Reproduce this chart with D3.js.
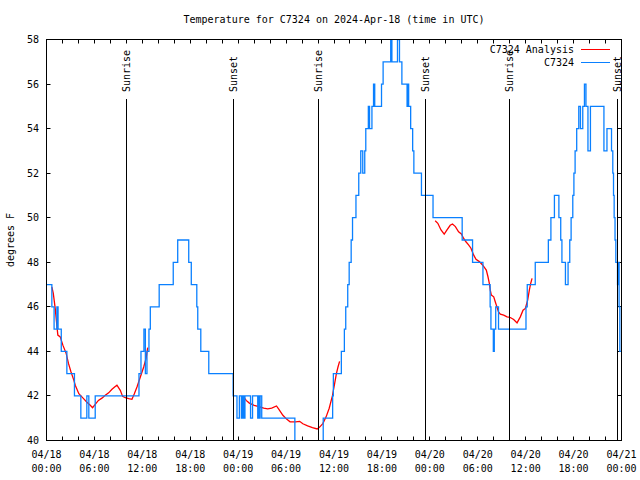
<!DOCTYPE html>
<html>
<head>
<meta charset="utf-8">
<script src="https://cdn.jsdelivr.net/npm/d3@7"></script>
<style>
  html, body { margin: 0; padding: 0; background: #ffffff; }
  svg { display: block; }
  text { font-family: "DejaVu Sans Mono", "Liberation Mono", monospace; font-size: 10px; fill: #000; }
</style>
</head>
<body>
<svg id="chart" width="640" height="480"></svg>
<script>
// ---- data (hours since 2024-04-18 00:00 UTC) ----
const titleText = "Temperature for C7324 on 2024-Apr-18 (time in UTC)";
const yLabelText = "degrees F";
const seriesNames = ["C7324 Analysis", "C7324"];

const blueHours = [0,0.67,0.95,1.3,1.45,1.85,2.55,3.5,4.3,5.05,5.3,6.1,11.58,11.83,12.2,12.38,12.58,12.83,13.0,14.11,15.87,16.43,17.81,18.13,18.82,18.94,19.32,20.32,
  23.37,23.85,24.15,24.4,24.55,24.7,24.85,25.55,25.8,26.45,26.55,26.65,26.75,26.95,31.1,34.65,
  35.83,35.92,36.92,37.3,37.47,37.72,37.9,38.15,38.32,38.75,39.1,39.35,39.6,39.85,39.98,40.3,40.45,40.75,40.95,41.1,41.95,42.15,43.1,43.25,43.95,44.2,44.5,45.15,45.25,45.35,45.6,45.85,46.0,46.95,48.4,52.05,53.35,54.65,55.55,55.65,55.95,56.07,56.25,56.6,
  60.04,60.2,61.2,62.84,63.16,63.6,64.16,64.39,64.54,64.98,65.31,65.52,65.69,65.9,66.04,66.19,66.39,66.65,66.86,67.15,67.36,67.55,67.8,68.11,69.8,70.18,70.75,70.91,71.0,71.08,71.19,71.29,71.5,71.6,71.7,71.79,72];
const blueTemps = [47,46,45,46,45,44,43,42,41,42,41,42,43,44,45,43,44,45,46,47,48,49,48,47,46,45,44,43,
  42,41,42,41,42,41,42,41,42,41,42,41,42,41,39,41,
  42,43,44,45,46,47,48,49,50,51,52,53,52,53,54,55,54,55,56,55,56,57,58,57,58,57,56,55,56,55,54,53,52,51,50,49,48,47,46,45,44,45,46,45,
  46,47,48,49,50,51,50,49,48,47,48,49,50,51,52,53,54,55,54,55,56,55,53,55,53,54,53,52,51,50,49,48,47,48,46,44,44];

// null entries separate the analysis segments
const redHours = [0.67,0.85,1.09,1.15,1.42,1.72,2.05,2.47,2.76,3.05,3.43,3.6,4.05,4.64,5.06,5.48,5.77,6.1,6.5,6.94,7.36,7.78,8.2,8.53,8.82,9.24,9.53,9.87,10.29,10.7,11.0,11.33,11.75,12.17,12.46,12.67,
  null,
  24.75,25.0,25.4,26.0,26.6,27.2,27.7,28.2,28.8,29.1,29.6,30.1,30.5,31.2,31.7,32.1,32.7,33.3,33.9,34.2,34.6,35.0,35.4,35.8,36.1,36.3,36.5,36.7,
  null,
  48.67,49.0,49.4,49.8,50.15,50.55,50.84,51.2,51.6,51.95,52.22,52.52,52.85,53.15,53.48,53.78,54.2,54.6,54.85,55.07,55.28,55.45,55.57,55.7,56.0,56.2,56.4,56.6,56.83,57.25,57.67,58.08,58.5,58.92,59.33,59.67,59.96,60.25,60.46,60.63,60.8];
const redTemps = [46.9,46.6,45.93,45.7,44.73,44.65,44.28,43.9,43.45,43.1,42.7,42.48,42.1,41.88,41.72,41.58,41.47,41.62,41.8,41.9,42.03,42.14,42.3,42.4,42.48,42.25,41.98,41.92,41.88,41.85,42.1,42.4,42.85,43.3,43.67,44.17,
  null,
  41.93,41.8,41.68,41.58,41.52,41.45,41.42,41.45,41.55,41.4,41.13,40.95,40.84,40.84,40.86,40.75,40.66,40.58,40.52,40.6,40.76,41.05,41.45,42.0,42.6,43.0,43.3,43.55,
  null,
  49.86,49.75,49.45,49.26,49.45,49.66,49.72,49.6,49.37,49.27,49.08,48.92,48.78,48.63,48.33,48.13,48.03,47.88,47.76,47.65,47.35,47.05,46.75,46.53,46.45,46.22,46.0,45.77,45.67,45.63,45.55,45.52,45.43,45.28,45.55,45.85,45.93,46.3,46.75,47.05,47.28];

const sunriseHours = [9.97, 34.0, 57.97];
const sunsetHours = [23.4, 47.45, 71.55];

const xTickHours = d3.range(0, 73, 2);
const xLabelHours = d3.range(0, 73, 6);
const yTicks = d3.range(40, 59, 2);
const startTime = Date.UTC(2024, 3, 18, 0, 0);

// ---- layout ----
const L = 46.5, R = 621.5, T = 39.5, B = 440.5;
const toDate = h => new Date(startTime + h * 3600000);
const x = d3.scaleUtc().domain([toDate(0), toDate(72)]).range([L, R]);
const y = d3.scaleLinear().domain([40, 58]).range([B, T]);
const fmtDay = d3.utcFormat("%m/%d"), fmtTime = d3.utcFormat("%H:%M");

const svg = d3.select("#chart");

svg.append("defs").append("clipPath").attr("id", "plotclip")
  .append("rect").attr("x", L).attr("y", T).attr("width", R - L).attr("height", B - T);

// title
svg.append("text").attr("x", (L + R) / 2).attr("y", 22.5).attr("text-anchor", "middle").text(titleText);

// y label
svg.append("text").attr("transform", `translate(10,240) rotate(-90)`)
  .attr("text-anchor", "middle").attr("dy", "0.35em").text(yLabelText);

// ticks
const tickLen = 4;
const g = svg.append("g").attr("stroke", "#000").attr("stroke-width", 1);
xTickHours.forEach(h => {
  const xp = Math.round(x(toDate(h)) - 0.5) + 0.5;
  g.append("line").attr("x1", xp).attr("x2", xp).attr("y1", B).attr("y2", B - tickLen);
  g.append("line").attr("x1", xp).attr("x2", xp).attr("y1", T).attr("y2", T + tickLen);
});
yTicks.forEach(v => {
  const yp = Math.round(y(v) - 0.5) + 0.5;
  g.append("line").attr("x1", L).attr("x2", L + tickLen).attr("y1", yp).attr("y2", yp);
  g.append("line").attr("x1", R).attr("x2", R - tickLen).attr("y1", yp).attr("y2", yp);
});

// tick labels
xLabelHours.forEach(h => {
  const d = toDate(h);
  const t = svg.append("text").attr("text-anchor", "middle");
  t.append("tspan").attr("x", x(d)).attr("y", 457.5).text(fmtDay(d));
  t.append("tspan").attr("x", x(d)).attr("y", 471.5).text(fmtTime(d));
});
yTicks.forEach(v => {
  svg.append("text").attr("x", 39).attr("y", y(v)).attr("dy", "0.35em")
    .attr("text-anchor", "end").text(v);
});

// data
const plot = svg.append("g").attr("clip-path", "url(#plotclip)");
const redData = redHours.map((h, i) => ({ h, v: redTemps[i] }));
const blueData = blueHours.map((h, i) => ({ h, v: blueTemps[i] }));

const redLine = d3.line().defined(d => d.h != null && d.v != null)
  .x(d => x(toDate(d.h))).y(d => y(d.v));
plot.append("path").datum(redData).attr("d", redLine)
  .attr("fill", "none").attr("stroke", "#ff0000").attr("stroke-width", 1.3);

const blueLine = d3.line().curve(d3.curveStepAfter)
  .x(d => x(toDate(d.h))).y(d => y(d.v));
plot.append("path").datum(blueData).attr("d", blueLine)
  .attr("fill", "none").attr("stroke", "#0a80ff").attr("stroke-width", 1.3);

// sunrise / sunset markers
const events = sunriseHours.map(h => ({ h, label: "Sunrise" }))
  .concat(sunsetHours.map(h => ({ h, label: "Sunset" })));
events.forEach(e => {
  const xp = Math.round(x(toDate(e.h)) - 0.5) + 0.5;
  svg.append("line").attr("x1", xp).attr("x2", xp).attr("y1", 99).attr("y2", B)
    .attr("stroke", "#000").attr("stroke-width", 1);
  svg.append("text").attr("transform", `translate(${xp},92) rotate(-90)`)
    .attr("dy", "0.35em").attr("text-anchor", "start").text(e.label);
});

// frame
svg.append("rect").attr("x", L).attr("y", T).attr("width", R - L).attr("height", B - T)
  .attr("fill", "none").attr("stroke", "#000").attr("stroke-width", 1);

// legend
const legendColors = ["#ff0000", "#0a80ff"];
seriesNames.forEach((name, i) => {
  const ly = 49.5 + i * 13;
  svg.append("text").attr("x", 574).attr("y", ly).attr("dy", "0.35em")
    .attr("text-anchor", "end").text(name);
  svg.append("line").attr("x1", 581).attr("x2", 610).attr("y1", ly).attr("y2", ly)
    .attr("stroke", legendColors[i]).attr("stroke-width", 1);
});
</script>
</body>
</html>
